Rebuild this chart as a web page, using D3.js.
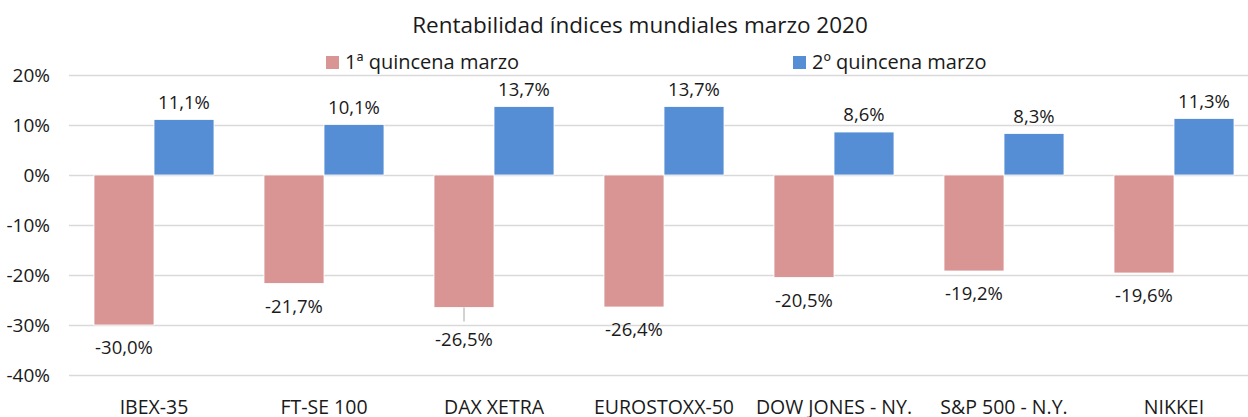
<!DOCTYPE html>
<html>
<head>
<meta charset="utf-8">
<script src="https://cdn.jsdelivr.net/npm/d3@7"></script>
<style>
    body { margin: 0; background: #fff; }
    text { font-family: "Open Sans", sans-serif; fill: #1a1a1a; }
</style>
</head>
<body>
<svg id="chart" width="1248" height="417"></svg>
<script>
// Données
const indices = ["IBEX-35", "FT-SE 100", "DAX XETRA", "EUROSTOXX-50", "DOW JONES - NY.", "S&P 500 - N.Y.", "NIKKEI"];
const series = ["1ª quincena marzo", "2º quincena marzo"];
const quincena1 = [-30.0, -21.7, -26.5, -26.4, -20.5, -19.2, -19.6];
const quincena2 = [11.1, 10.1, 13.7, 13.7, 8.6, 8.3, 11.3];
const yTicks = [-40, -30, -20, -10, 0, 10, 20];
const couleurs = ["#d99594", "#558ed5"];

const rows = indices.map((nom, i) => ({ nom, valeurs: [quincena1[i], quincena2[i]] }));

const svg = d3.select("#chart");
const plotLeft = 69, plotRight = 1259, plotTop = 75, plotBottom = 375;

const x0 = d3.scaleBand().domain(indices).range([plotLeft, plotRight]).padding(0);
const x1 = d3.scaleBand().domain(series).range([0, x0.bandwidth()]).paddingInner(0).paddingOuter(0.4167);
const y = d3.scaleLinear().domain([-40, 20]).range([plotBottom, plotTop]);

// Titre
svg.append("text")
    .attr("x", 640).attr("y", 33)
    .attr("text-anchor", "middle")
    .attr("font-size", 22.5)
    .text("Rentabilidad índices mundiales marzo 2020");

// Grille + axe Y
const yAxis = svg.append("g")
    .attr("transform", `translate(${plotLeft},0)`)
    .call(d3.axisLeft(y).tickValues(yTicks).tickSize(-(plotRight - plotLeft)).tickPadding(19)
        .tickFormat(d => d + "%"));
yAxis.select(".domain").remove();
yAxis.selectAll(".tick line").attr("stroke", "#d9d9d9").attr("stroke-width", 1.5);
yAxis.selectAll(".tick text")
    .attr("font-size", 19)
    .attr("font-family", "Open Sans, sans-serif")
    .attr("fill", "#1a1a1a");

// Barres
const groupes = svg.selectAll(".groupe")
    .data(rows)
    .enter()
    .append("g")
    .attr("transform", d => `translate(${x0(d.nom)},0)`);

groupes.selectAll("rect")
    .data(d => d.valeurs.map((v, k) => ({ serie: series[k], v, k, nom: d.nom })))
    .enter()
    .append("rect")
    .attr("x", d => x1(d.serie))
    .attr("y", d => y(Math.max(0, d.v)))
    .attr("width", x1.bandwidth())
    .attr("height", d => Math.abs(y(d.v) - y(0)))
    .attr("fill", d => couleurs[d.k])
    .attr("stroke", "#fff")
    .attr("stroke-width", 0.8);

// Étiquettes
const fmt = v => v.toFixed(1).replace(".", ",") + "%";
groupes.selectAll(".etiquette")
    .data(d => d.valeurs.map((v, k) => ({ serie: series[k], v, k, nom: d.nom })))
    .enter()
    .append("text")
    .attr("x", d => x1(d.serie) + x1.bandwidth() / 2)
    .attr("y", d => {
        if (d.v >= 0) return y(d.v) - 11;
        // DAX a une ligne de rappel, étiquette plus bas
        return y(d.v) + (d.nom === "DAX XETRA" ? 38 : 29);
    })
    .attr("text-anchor", "middle")
    .attr("font-size", 18.5)
    .text(d => fmt(d.v));

// ligne de rappel DAX
const dax = rows.find(r => r.nom === "DAX XETRA");
svg.append("line")
    .attr("x1", x0(dax.nom) + x1(series[0]) + x1.bandwidth() / 2)
    .attr("x2", x0(dax.nom) + x1(series[0]) + x1.bandwidth() / 2)
    .attr("y1", y(dax.valeurs[0]))
    .attr("y2", y(dax.valeurs[0]) + 14)
    .attr("stroke", "#a6a6a6")
    .attr("stroke-width", 1);

// Catégories
svg.selectAll(".cat")
    .data(indices)
    .enter()
    .append("text")
    .attr("x", d => x0(d) + x0.bandwidth() / 2)
    .attr("y", 414)
    .attr("text-anchor", "middle")
    .attr("font-size", 19.5)
    .text(d => d);

// Légende
const legX = [326, 793];
const leg = svg.selectAll(".leg")
    .data(series)
    .enter()
    .append("g")
    .attr("transform", (d, i) => `translate(${legX[i]},56)`);
leg.append("rect")
    .attr("width", 13).attr("height", 13)
    .attr("fill", (d, i) => couleurs[i]);
leg.append("text")
    .attr("x", 19).attr("y", 12.5)
    .attr("font-size", 20)
    .text(d => d);
</script>
</body>
</html>
